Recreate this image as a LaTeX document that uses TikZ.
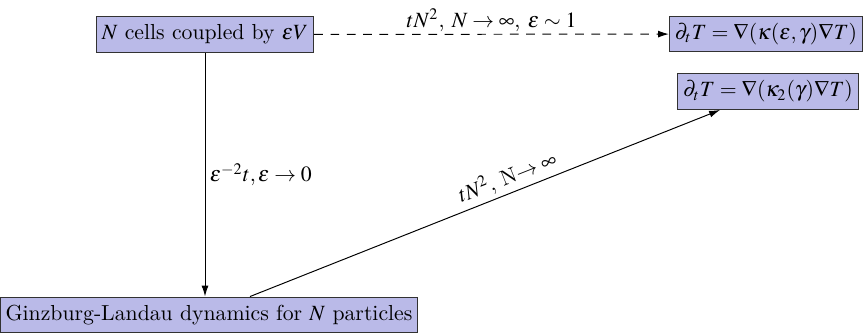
\documentclass[tikz,border=0pt]{standalone}
\usepackage{mathptmx}
\usetikzlibrary{arrows.meta,calc}
\definecolor{boxfill}{RGB}{186,186,232}
\definecolor{boxline}{RGB}{50,50,50}
\tikzset{
  stbox/.style={draw=boxline,fill=boxfill,line width=0.5pt,inner xsep=2.5pt,inner ysep=0pt,minimum height=16.5pt,font=\fontsize{10}{12}\selectfont},
  arr/.style={-{Latex[length=5pt,width=3.2pt]},line width=0.45pt},
  lbl/.style={font=\fontsize{10}{12}\selectfont}
}
\begin{document}
\begin{tikzpicture}[x=0.46pt,y=-0.46pt]
\useasboundingbox (0,0) rectangle (868,335);
\node[stbox] (b1) at (205,34.5) {$N$ cells coupled by $\varepsilon V$};
\node[stbox] (b2) at (766,34) {$\partial_t T=\nabla(\kappa(\varepsilon,\gamma)\nabla T)$};
\node[stbox] (b3) at (768,91.5) {$\partial_t T=\nabla(\kappa_2(\gamma)\nabla T)$};
\node[stbox] (b4) at (209,315) {Ginzburg-Landau dynamics for $N$ particles};
\draw[arr,dashed,dash pattern=on 4pt off 3.5pt] (b1) -- node[lbl,above,inner sep=1pt] {$tN^2$, $N\to\infty$, $\varepsilon\sim1$} (b2);
\draw[arr] (b1.south) -- (b1.south |- b4.north) node[lbl,pos=0.5,right,inner sep=2pt] {$\varepsilon^{-2}t,\varepsilon\to0$};
\draw[arr] ($(b4.north)+(41,0)$) -- node[lbl,sloped,above,pos=0.56,inner sep=2pt] {$tN^2$, N$\to\infty$} ($(b3.south)+(-48,0)$);
\end{tikzpicture}
\end{document}
